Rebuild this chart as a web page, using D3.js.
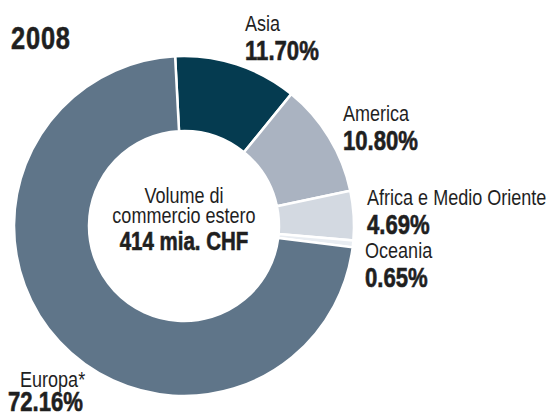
<!DOCTYPE html>
<html>
<head>
<meta charset="utf-8">
<style>
  body { margin: 0; background: #fff; }
  text { font-family: "Liberation Sans", Arimo, sans-serif; fill: #1f1f1f; }
  .lbl { font-size: 22px; }
  .val { font-size: 27px; font-weight: bold; stroke: #1f1f1f; stroke-width: 0.6px; }
</style>
</head>
<body>
<script src="https://d3js.org/d3.v7.min.js"></script>
<div id="chart"></div>
<script>
var regions = ["Asia", "America", "Africa e Medio Oriente", "Oceania", "Europa*"];
var shares = [11.70, 10.80, 4.69, 0.65, 72.16];
var shareLabels = ["11.70%", "10.80%", "4.69%", "0.65%", "72.16%"];
var year = "2008";
var centerLines = ["Volume di", "commercio estero"];
var totalLabel = "414 mia. CHF";

var width = 549, height = 412;
var cx = 184, cy = 226, outerR = 170, innerR = 95;
var narrow = 0.82; // squeeze Liberation Sans to a narrow face

var color = d3.scaleOrdinal()
    .domain(regions)
    .range(["#053b50", "#aab3c1", "#d3d9e1", "#e9edf2", "#5f7589"]);

// where the text labels sit (left x, baseline of the name)
var labelPos = {
    "Asia": [245, 31],
    "America": [343, 121],
    "Africa e Medio Oriente": [367, 205],
    "Oceania": [365, 258],
    "Europa*": [20, 387]
};
var valueOffset = {"Europa*": -12};

var svg = d3.select("#chart").append("svg")
    .attr("width", width)
    .attr("height", height);

var start = -3 * Math.PI / 180;
var pie = d3.pie()
    .sort(null)
    .value(function(d) { return d.v; })
    .startAngle(start)
    .endAngle(start + 2 * Math.PI);

var arc = d3.arc().innerRadius(innerR).outerRadius(outerR);

var data = regions.map(function(r, i) { return {name: r, v: shares[i], txt: shareLabels[i]}; });

var g = svg.append("g").attr("transform", "translate(" + cx + "," + cy + ")");

g.selectAll("path")
    .data(pie(data))
    .enter().append("path")
    .attr("d", arc)
    .attr("fill", function(d) { return color(d.data.name); })
    .attr("stroke", "#fff")
    .attr("stroke-width", 2.5);

function addText(x, y, cls, str) {
    return svg.append("text")
        .attr("class", cls)
        .attr("transform", "translate(" + x + "," + y + ") scale(" + narrow + ",1)")
        .text(str);
}

// year
addText(11, 49, "val", year).style("font-size", "31px").style("letter-spacing", "1px");

// labels
data.forEach(function(d) {
    var p = labelPos[d.name];
    addText(p[0], p[1], "lbl", d.name);
    addText(p[0] + (valueOffset[d.name] || 0), p[1] + (d.name === "Europa*" ? 24 : 29), "val", d.txt);
});

// centre text
centerLines.forEach(function(t, i) {
    addText(cx, 203 + i * 20, "lbl", t).attr("text-anchor", "middle");
});
addText(cx, 250, "val", totalLabel).attr("text-anchor", "middle").style("font-size", "25px");
</script>
</body>
</html>
